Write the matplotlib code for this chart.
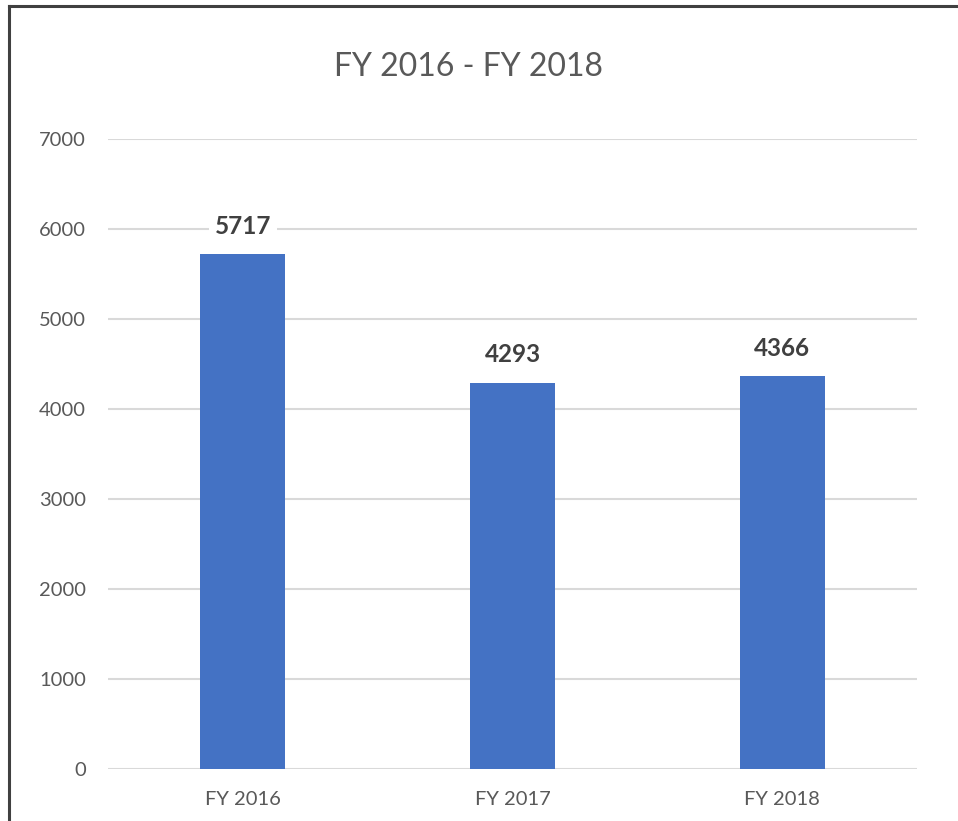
import matplotlib
matplotlib.use("Agg")
import matplotlib.pyplot as plt
from matplotlib.lines import Line2D

categories = ["FY 2016", "FY 2017", "FY 2018"]
values = [5717, 4293, 4366]
yticks = [0, 1000, 2000, 3000, 4000, 5000, 6000, 7000]

plt.rcParams['font.family'] = ['Lato', 'DejaVu Sans']

W, H = 958, 821
fig = plt.figure(figsize=(W/100, H/100), dpi=100)
ax = fig.add_axes([108/W, 1-769/H, (917-108)/W, (769-139)/H])

x = list(range(len(categories)))
ax.bar(x, values, width=0.315, color="#4472C4", zorder=3)
ax.set_xlim(-0.5, 2.5)
ax.set_ylim(0, 7000)
ax.set_yticks(yticks)
ax.set_yticklabels([str(t) for t in yticks])
ax.set_xticks(x)
ax.set_xticklabels(categories)
ax.grid(axis='y', color="#D9D9D9", linewidth=1.5, zorder=0)
ax.tick_params(axis='both', length=0, labelsize=14.5, colors="#595959")
ax.tick_params(axis='y', pad=16)
ax.tick_params(axis='x', pad=16)
for s in ax.spines.values():
    s.set_visible(False)

for xi, v in zip(x, values):
    ax.annotate(str(v), (xi, v), xytext=(0, 20), textcoords='offset points',
                ha='center', va='center', fontsize=17.5, fontweight='bold', color="#404040",
                bbox=dict(boxstyle='square,pad=0.25', fc='white', ec='none'), zorder=4)

fig.text(469/W, 1-67/H, "FY 2016 - FY 2018", ha='center', va='center', fontsize=23, color="#595959")

fig.add_artist(Line2D([9/W, 9/W], [0, 1-6/H], transform=fig.transFigure, color="#404040", linewidth=2.2))
fig.add_artist(Line2D([9/W, 1], [1-6/H, 1-6/H], transform=fig.transFigure, color="#404040", linewidth=2.2))

fig.savefig("out.png", dpi=100)
